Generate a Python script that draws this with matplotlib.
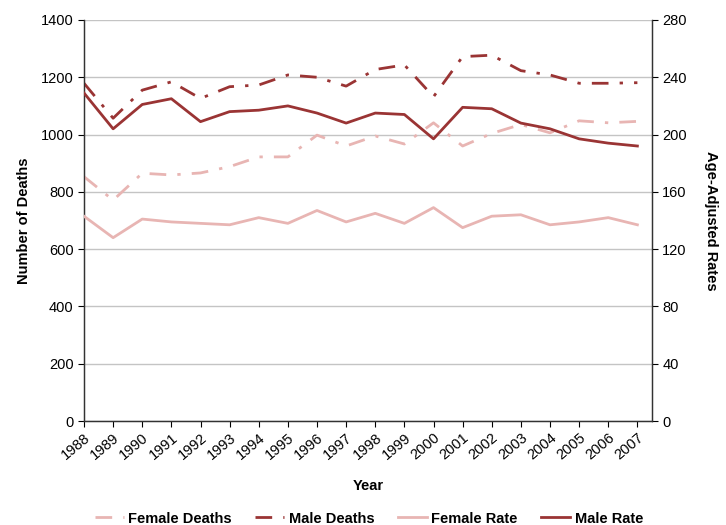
import matplotlib
matplotlib.use("Agg")
import matplotlib.pyplot as plt
from matplotlib.lines import Line2D

plt.rcParams['font.family'] = ['Liberation Sans', 'DejaVu Sans']

years = list(range(1988, 2008))
female_deaths = [853, 771, 865, 859, 866, 888, 922, 922, 998, 960, 995, 967, 1041, 960, 1004, 1035, 1006, 1048, 1041, 1046]
male_deaths = [1179, 1057, 1155, 1184, 1126, 1167, 1173, 1208, 1200, 1169, 1227, 1243, 1132, 1272, 1277, 1223, 1208, 1179, 1179, 1181]
female_rate = [143, 128, 141, 139, 138, 137, 142, 138, 147, 139, 145, 138, 149, 135, 143, 144, 137, 139, 142, 137]
male_rate = [229, 204, 221, 225, 209, 216, 217, 220, 215, 208, 215, 214, 197, 219, 218, 208, 204, 197, 194, 192]

dark = '#9a3434'
light = '#e8b5b3'
dashdot = (0, (6, 4, 1.2, 4))

fig = plt.figure(figsize=(7.26, 5.25), dpi=100)
ax = fig.add_axes([0.1157, 0.198, 0.7823, 0.764])
ax2 = ax.twinx()

ax.plot(years, female_deaths, color=light, lw=2.0, linestyle=dashdot, zorder=3)
ax.plot(years, male_deaths, color=dark, lw=2.0, linestyle=dashdot, zorder=3)
ax2.plot(years, female_rate, color=light, lw=2.0, zorder=3)
ax2.plot(years, male_rate, color=dark, lw=2.0, zorder=3)

ax.set_xlim(1988, 2007.5)
ax.set_ylim(0, 1400)
ax2.set_ylim(0, 280)
ax.set_yticks(range(0, 1401, 200))
ax2.set_yticks(range(0, 281, 40))
ax.set_xticks(years)
ax.set_xticklabels([str(y) for y in years], rotation=40, ha='right', rotation_mode='anchor', fontsize=10.5)
ax.tick_params(axis='y', labelsize=10.5, length=4, width=0.8, direction='out')
ax2.tick_params(axis='y', labelsize=10.5, length=4, width=0.8, direction='out')
ax.tick_params(axis='x', length=4, width=0.8, direction='out', pad=3)

ax.yaxis.grid(True, color='#c4c4c4', lw=1.0)
ax.set_axisbelow(True)
for a in (ax, ax2):
    a.spines['top'].set_visible(False)
    for s in ('left', 'right', 'bottom'):
        a.spines[s].set_color('#333333')
        a.spines[s].set_linewidth(0.9)
ax.patch.set_visible(False)
ax2.set_zorder(ax.get_zorder() + 1)

ax.set_xlabel('Year', fontsize=10.5, fontweight='bold', labelpad=12)
ax.set_ylabel('Number of Deaths', fontsize=10.5, fontweight='bold', labelpad=7)
ax2.set_ylabel('Age-Adjusted Rates', fontsize=10.5, fontweight='bold', rotation=270, labelpad=22)

handles = [
    Line2D([], [], color=light, lw=2.0, linestyle=dashdot),
    Line2D([], [], color=dark, lw=2.0, linestyle=dashdot),
    Line2D([], [], color=light, lw=2.0),
    Line2D([], [], color=dark, lw=2.0),
]
labels = ['Female Deaths', 'Male Deaths', 'Female Rate', 'Male Rate']
fig.legend(handles, labels, loc='lower center', bbox_to_anchor=(0.508, -0.026), ncol=4,
           frameon=False, prop={'size': 10.5, 'weight': 'bold'}, handlelength=2.0,
           handletextpad=0.3, columnspacing=1.6)

fig.savefig('out.png', dpi=100)
